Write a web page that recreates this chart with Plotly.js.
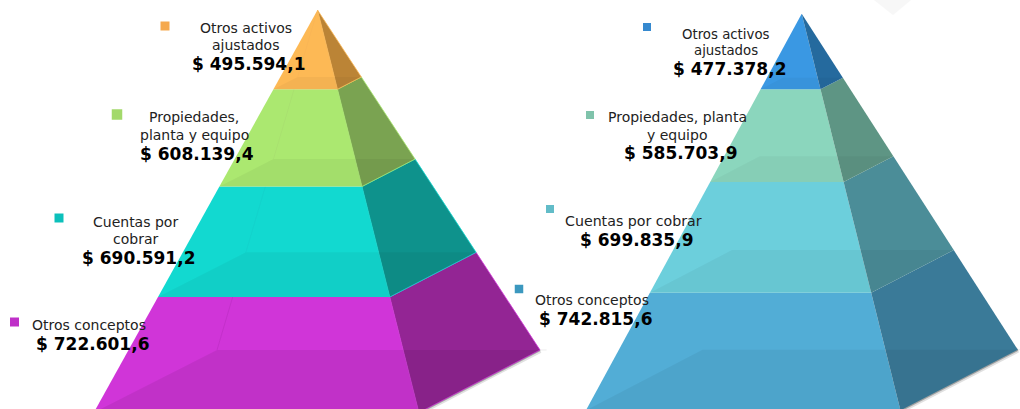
<!DOCTYPE html>
<html><head><meta charset="utf-8">
<script src="https://cdn.plot.ly/plotly-3.0.1.min.js"></script>
<style>html,body{margin:0;padding:0;background:#fff}#c{width:1020px;height:409px}</style></head>
<body><div id="c"></div>
<script>
// ---- data
const categories = ["Otros activos ajustados","Propiedades, planta y equipo","Cuentas por cobrar","Otros conceptos"];
const valuesLeft  = [495594.1, 608139.4, 690591.2, 722601.6];
const valuesRight = [477378.2, 585703.9, 699835.9, 742815.6];
const labelLinesLeft  = [["Otros activos","ajustados"],["Propiedades,","planta y equipo"],["Cuentas por","cobrar"],["Otros conceptos"]];
const labelLinesRight = [["Otros activos","ajustados"],["Propiedades, planta","y equipo"],["Cuentas por cobrar"],["Otros conceptos"]];

// ---- styling
const W = 1020, H = 409;
const left = {
  values: valuesLeft, lines: labelLinesLeft, axis: ["x","y"], axKey: ["xaxis","yaxis"],
  apex: [317.5, 10], k: 0.15995e-3,
  L: -0.5557, F: 0.2519, R: 0.5526, B: -0.2496, rear: 0.8445,
  front: ["#fdb955","#abe870","#12d9d0","#d035d8"],
  side:  ["#bb8436","#7aa351","#0e928c","#932594"],
  square:["#f5a94e","#a3d96b","#0cc0bb","#bf30c8"],
  floor: [0.035,0.045,0.045,0.07],
  edge: 0.8, backLine: [0.02,0.03,0.03,0.10],
  sq: [[165,26,9],[117,114.5,10.5],[59,218,9],[14.5,322,9]],
  labelPos: [[245.5,[28,45],248,64],[194,[117,135],197,154],[135.5,[222,239],138.5,258],[89,[325],92,344]],
  sizes: [14,14,14,14]
};
const right = {
  values: valuesRight, lines: labelLinesRight, axis: ["x2","y2"], axKey: ["xaxis2","yaxis2"],
  apex: [801.7, 13.7], k: 0.1583e-3,
  L: -0.544, F: 0.249, R: 0.5448, B: -0.25, rear: 0.847,
  front: ["#3a98e3","#8bd6bd","#6ccfdc","#52add6"],
  side:  ["#256a9e","#5e9584","#4b8d98","#3a7a98"],
  square:["#3689cf","#7fc3ab","#62bcc8","#3b98bf"],
  floor: [0.03,0.035,0.045,0.05],
  edge: 0, backLine: null,
  sq: [[647,27,8],[590,115,8],[550,209,8],[519,289,8.5]],
  labelPos: [[725.5,[34,50],729,69],[677,[117,135],680,153],[633.5,[221],636,240],[591.5,[300],595,319]],
  sizes: [13.3,14,14.2,14]
};

function fmt(v){
  const [i,d] = v.toFixed(1).split(".");
  return "$ " + i.replace(/\B(?=(\d{3})+$)/g,".") + "," + d;
}
function cumulative(vals){ let s=0; return vals.map(v=>s+=v); }
const traces = [], annotations = [], shapes = [];

function poly(p, xs, ys, fill, line, width){
  traces.push({type:"scatter", mode:"lines", x:xs, y:ys, xaxis:p.axis[0], yaxis:p.axis[1],
    fill: fill ? "toself" : "none", fillcolor: fill || undefined,
    line:{color: line || "rgba(0,0,0,0)", width: width||0}, hoverinfo:"skip", showlegend:false});
}
function pyramid(p){
  const c = [0].concat(cumulative(p.values));
  const px = f => d => f*d;
  const Lx=px(p.L), Fx=px(p.F), Rx=px(p.R), Bx=px(p.B), ry=d=>p.rear*d;
  const D = c[c.length-1];
  // base shadow
  poly(p,[Rx(D),Rx(D)*1.03],[ry(D),ry(D)],null,"rgba(0,0,0,0.08)",1);
  poly(p,[Fx(D),Rx(D)],[D,ry(D)],null,"rgba(0,0,0,0.12)",6);
  poly(p,[Fx(D),Rx(D)],[D+6,ry(D)+6],null,"rgba(0,0,0,0.28)",2.5);
  for(let i=p.values.length-1;i>=0;i--){
    const a=c[i], b=c[i+1];
    poly(p,[Lx(a),Fx(a),Fx(b),Lx(b),Lx(a)],[a,a,b,b,a],p.front[i]);
    poly(p,[Fx(a),Rx(a),Rx(b),Fx(b),Fx(a)],[a,ry(a),ry(b),b,a],p.side[i],p.edge?p.front[i]:null,p.edge);
    if(p.backLine) poly(p,[Bx(a),Bx(b)],[ry(a),ry(b)],null,`rgba(90,10,90,${p.backLine[i]})`,1);
    poly(p,[Lx(b),Bx(b),Rx(b),Fx(b),Lx(b)],[b,ry(b),ry(b),b,b],`rgba(0,0,0,${p.floor[i]})`);
  }
  p.values.forEach((v,i)=>{
    const [cx,ys,vx,vy] = p.labelPos[i];
    p.lines[i].forEach((t,j)=>annotations.push({xref:"paper",yref:"paper",x:cx/W,y:1-ys[j]/H,
      text:t,showarrow:false,xanchor:"center",yanchor:"middle",font:{family:"DejaVu Sans",size:p.sizes[i],color:"#222"}}));
    annotations.push({xref:"paper",yref:"paper",x:vx/W,y:1-vy/H,text:"<b>"+fmt(v)+"</b>",showarrow:false,
      xanchor:"center",yanchor:"middle",font:{family:"DejaVu Sans",size:17,color:"#000"}});
    const [sx,sy,s] = p.sq[i];
    shapes.push({type:"rect",xref:"paper",yref:"paper",x0:(sx-s/2)/W,x1:(sx+s/2)/W,
      y0:1-(sy+s/2)/H,y1:1-(sy-s/2)/H,fillcolor:p.square[i],line:{width:0}});
  });
}
pyramid(left); pyramid(right);

const hidden = (range, extra) => Object.assign({range, visible:false, showgrid:false, zeroline:false, fixedrange:true}, extra||{});
const layout = {
  width:W, height:H, margin:{l:0,r:0,t:0,b:0}, paper_bgcolor:"#fff", plot_bgcolor:"rgba(0,0,0,0)",
  showlegend:false, annotations, shapes
};
[left,right].forEach(p=>{
  layout[p.axKey[0]] = hidden([(0-p.apex[0])/p.k,(W-p.apex[0])/p.k],{domain:[0,1],anchor:p.axis[1]});
  layout[p.axKey[1]] = hidden([(H-p.apex[1])/p.k,(0-p.apex[1])/p.k],{domain:[0,1],anchor:p.axis[0]});
});
// faint mark at the top edge of the picture
shapes.push({type:"path",xref:"paper",yref:"paper",layer:"below",
  path:`M ${874/W} 1 L ${911/W} 1 L ${893/W} ${1-15/H} Z`,fillcolor:"#f7f7f7",line:{width:0}});

Plotly.newPlot("c",traces,layout,{displayModeBar:false,staticPlot:true});
</script></body></html>
